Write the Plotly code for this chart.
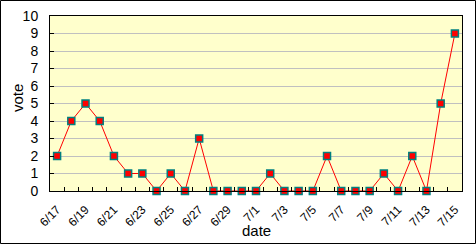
import plotly.graph_objects as go

dates = ["6/17","6/18","6/19","6/20","6/21","6/22","6/23","6/24","6/25","6/26",
         "6/27","6/28","6/29","6/30","7/1","7/2","7/3","7/4","7/5","7/6",
         "7/7","7/8","7/9","7/10","7/11","7/12","7/13","7/14","7/15"]
votes = [2,4,5,4,2,1,1,0,1,0,3,0,0,0,0,1,0,0,0,2,0,0,0,1,0,2,0,5,9]
tick_labels = [d if i % 2 == 0 else "" for i, d in enumerate(dates)]

fig = go.Figure()
fig.add_trace(go.Scatter(
    x=dates, y=votes, mode="lines+markers",
    line=dict(color="#ff0000", width=1),
    marker=dict(symbol="square", size=7, color="#ff0000",
                line=dict(color="#008080", width=1.5)),
    cliponaxis=False,
))

W, H = 476, 244
L, R, T, B = 50, 14, 16, 53
pw, ph = W - L - R, H - T - B

def px(x):
    return (x - L) / pw

def py(y):
    return (T + ph - y) / ph

fig.update_layout(
    width=W, height=H,
    margin=dict(l=L, r=R, t=T, b=B),
    paper_bgcolor="white",
    plot_bgcolor="#ffffcc",
    showlegend=False,
    font=dict(family="Liberation Sans, Arial, sans-serif", size=13, color="black"),
    xaxis=dict(
        type="category", automargin=False,
        tickmode="array", tickvals=dates, ticktext=tick_labels,
        tickson="boundaries",
        ticks="inside", ticklen=4, tickcolor="black",
        tickangle=-45, tickfont=dict(size=12),
        ticklabelstandoff=6,
        showgrid=False,
        showline=True, linecolor="black", linewidth=1, mirror=True,
        range=[-0.5, len(dates) - 0.5],
    ),
    yaxis=dict(
        range=[0, 10], dtick=1, automargin=False,
        ticks="inside", ticklen=4, tickcolor="black",
        ticklabelstandoff=8,
        showgrid=True, gridcolor="#c0c0c0", gridwidth=1,
        showline=True, linecolor="black", linewidth=1, mirror=True,
        zeroline=False,
        tickfont=dict(size=14),
    ),
    annotations=[
        dict(text="date", xref="paper", yref="paper", x=px(256), y=py(230),
             xanchor="center", yanchor="middle", showarrow=False, font=dict(size=15)),
        dict(text="vote", xref="paper", yref="paper", x=px(18), y=py(98),
             xanchor="center", yanchor="middle", showarrow=False, textangle=-90,
             font=dict(size=15)),
    ],
    shapes=[dict(
        type="rect", xref="paper", yref="paper",
        x0=px(0.5), x1=px(W - 0.5),
        y0=py(H - 0.5), y1=py(0.5),
        line=dict(color="black", width=1), layer="below",
    )],
)

fig.write_html("out.html")
